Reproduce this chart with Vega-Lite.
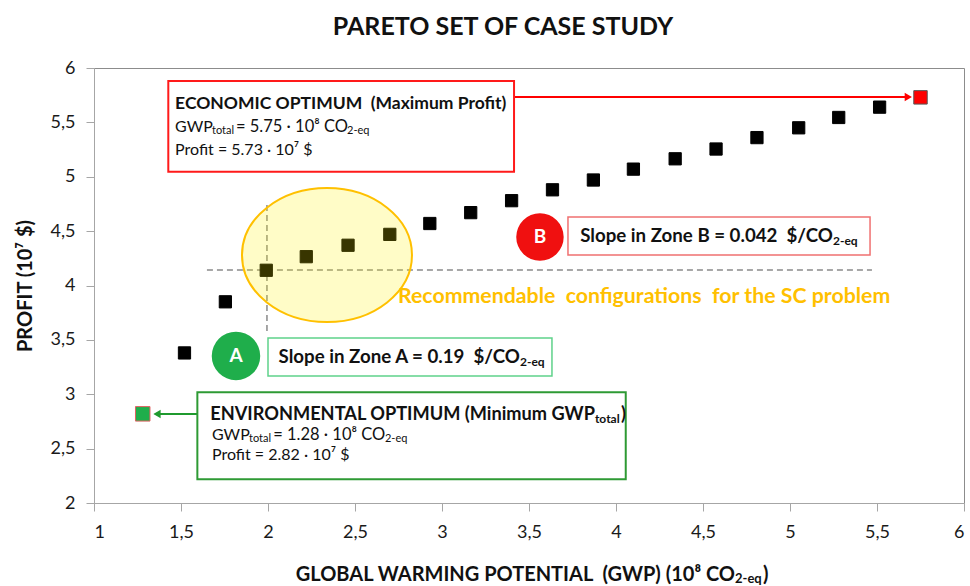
{
  "$schema": "https://vega.github.io/schema/vega-lite/v6.json",
  "width": 870,
  "height": 435,
  "autosize": {"type": "none"},
  "padding": {"left": 94, "top": 68, "right": 6, "bottom": 83},
  "background": "white",
  "config": {
    "font": "Lato",
    "view": {"stroke": "#8c8c8c", "strokeWidth": 1},
    "axis": {"grid": false, "domainColor": "#a6a6a6", "tickColor": "#a6a6a6", "tickSize": 8, "labelFont": "Lato", "labelFontSize": 18, "labelColor": "#1a1a1a"}
  },
  "title": {"text": "PARETO SET OF CASE STUDY", "font": "Lato", "fontSize": 25, "fontWeight": "bold", "color": "#111111", "anchor": "middle", "dx": -26, "offset": 19},
  "datasets": {
    "pts": [
      {"gwp": 1.28, "profit": 2.82, "solution": "Environmental optimum"},
      {"gwp": 1.52, "profit": 3.38, "solution": "Pareto"},
      {"gwp": 1.755, "profit": 3.85, "solution": "Pareto"},
      {"gwp": 1.99, "profit": 4.14, "solution": "Pareto"},
      {"gwp": 2.22, "profit": 4.265, "solution": "Pareto"},
      {"gwp": 2.46, "profit": 4.37, "solution": "Pareto"},
      {"gwp": 2.7, "profit": 4.47, "solution": "Pareto"},
      {"gwp": 2.93, "profit": 4.57, "solution": "Pareto"},
      {"gwp": 3.165, "profit": 4.67, "solution": "Pareto"},
      {"gwp": 3.4, "profit": 4.78, "solution": "Pareto"},
      {"gwp": 3.635, "profit": 4.88, "solution": "Pareto"},
      {"gwp": 3.87, "profit": 4.97, "solution": "Pareto"},
      {"gwp": 4.1, "profit": 5.07, "solution": "Pareto"},
      {"gwp": 4.34, "profit": 5.165, "solution": "Pareto"},
      {"gwp": 4.575, "profit": 5.255, "solution": "Pareto"},
      {"gwp": 4.81, "profit": 5.36, "solution": "Pareto"},
      {"gwp": 5.05, "profit": 5.45, "solution": "Pareto"},
      {"gwp": 5.28, "profit": 5.545, "solution": "Pareto"},
      {"gwp": 5.515, "profit": 5.64, "solution": "Pareto"},
      {"gwp": 5.75, "profit": 5.73, "solution": "Economic optimum"}
    ]
  },
  "encoding": {
    "x": {"field": "x", "type": "quantitative", "scale": {"domain": [1, 6], "nice": false, "zero": false},
      "axis": {"values": [1, 1.5, 2, 2.5, 3, 3.5, 4, 4.5, 5, 5.5, 6], "labelExpr": "replace(format(datum.value, '~g'), '.', ',')", "labelPadding": 12, "title": null}},
    "y": {"field": "y", "type": "quantitative", "scale": {"domain": [2, 6], "nice": false, "zero": false},
      "axis": {"values": [2, 2.5, 3, 3.5, 4, 4.5, 5, 5.5, 6], "labelExpr": "replace(format(datum.value, '~g'), '.', ',')", "labelPadding": 11, "title": "PROFIT (10⁷ $)", "titleFont": "Lato", "titleFontSize": 20, "titleFontWeight": "bold", "titleColor": "#111111", "titlePadding": 15}}
  },
  "layer": [
    {
      "data": {"values": [{"x": 1.649, "x2": 5.471, "y": 4.142}]},
      "mark": {"type": "rule", "color": "#8a8a8a", "strokeWidth": 1.5, "strokeDash": [6, 4]},
      "encoding": {"x2": {"field": "x2"}}
    },
    {
      "data": {"values": [{"x": 1.994, "y": 4.74, "y2": 3.563}]},
      "mark": {"type": "rule", "color": "#8a8a8a", "strokeWidth": 1.5, "strokeDash": [6, 4]},
      "encoding": {"y2": {"field": "y2"}}
    },
    {
      "data": {"name": "pts"},
      "mark": {"type": "point", "shape": "square", "filled": true, "opacity": 1, "strokeWidth": 1},
      "encoding": {
        "x": {"field": "gwp", "type": "quantitative", "scale": {"domain": [1, 6], "nice": false, "zero": false},
          "axis": {"values": [1, 1.5, 2, 2.5, 3, 3.5, 4, 4.5, 5, 5.5, 6], "labelExpr": "replace(format(datum.value, '~g'), '.', ',')", "labelPadding": 12, "title": null}},
        "y": {"field": "profit", "type": "quantitative", "scale": {"domain": [2, 6], "nice": false, "zero": false},
          "axis": {"values": [2, 2.5, 3, 3.5, 4, 4.5, 5, 5.5, 6], "labelExpr": "replace(format(datum.value, '~g'), '.', ',')", "labelPadding": 11, "title": "PROFIT (10⁷ $)", "titleFont": "Lato", "titleFontSize": 20, "titleFontWeight": "bold", "titleColor": "#111111", "titlePadding": 15}},
        "color": {"field": "solution", "type": "nominal", "scale": {"domain": ["Pareto", "Economic optimum", "Environmental optimum"], "range": ["#000000", "#ff0000", "#1fae4b"]}, "legend": null},
        "stroke": {"field": "solution", "type": "nominal", "scale": {"domain": ["Pareto", "Economic optimum", "Environmental optimum"], "range": ["#000000", "#555555", "#e06060"]}, "legend": null},
        "size": {"field": "solution", "type": "nominal", "scale": {"domain": ["Pareto", "Economic optimum", "Environmental optimum"], "range": [150, 210, 210]}, "legend": null}
      }
    },
    {
      "data": {"values": [{"x": 2.339, "y": 4.28}]},
      "mark": {"type": "point", "shape": "M-1,0A1,0.788,0,1,0,1,0A1,0.788,0,1,0,-1,0Z", "size": 28900, "fill": "#fff200", "fillOpacity": 0.22, "stroke": "#ffc000", "strokeWidth": 2, "strokeOpacity": 1, "opacity": 1}
    },
    {
      "data": {"values": [{"x": 3.414, "x2": 5.69, "y": 5.733}]},
      "mark": {"type": "rule", "color": "#ff0000", "strokeWidth": 2},
      "encoding": {"x2": {"field": "x2"}}
    },
    {
      "data": {"values": [{"x": 5.68, "y": 5.733}]},
      "mark": {"type": "point", "shape": "triangle-right", "size": 70, "filled": true, "color": "#ff0000", "opacity": 1}
    },
    {
      "data": {"values": [{"x": 1.35, "x2": 1.594, "y": 2.818}]},
      "mark": {"type": "rule", "color": "#1f9a2e", "strokeWidth": 2},
      "encoding": {"x2": {"field": "x2"}}
    },
    {
      "data": {"values": [{"x": 1.362, "y": 2.818}]},
      "mark": {"type": "point", "shape": "triangle-left", "size": 70, "filled": true, "color": "#1f9a2e", "opacity": 1}
    },
    {
      "data": {"values": [{"x": 1.427, "x2": 3.414, "y": 5.88, "y2": 5.046}]},
      "mark": {"type": "rect", "fill": "white", "stroke": "#ff1a1a", "strokeWidth": 2},
      "encoding": {"x2": {"field": "x2"}, "y2": {"field": "y2"}}
    },
    {
      "data": {"values": [{"x": 1.594, "x2": 4.056, "y": 3.018, "y2": 2.218}]},
      "mark": {"type": "rect", "fill": "white", "stroke": "#2e9a34", "strokeWidth": 2},
      "encoding": {"x2": {"field": "x2"}, "y2": {"field": "y2"}}
    },
    {
      "data": {"values": [{"x": 2.0, "x2": 3.632, "y": 3.517, "y2": 3.168}]},
      "mark": {"type": "rect", "fill": "white", "stroke": "#5fd28a", "strokeWidth": 1.5},
      "encoding": {"x2": {"field": "x2"}, "y2": {"field": "y2"}}
    },
    {
      "data": {"values": [{"x": 3.724, "x2": 5.46, "y": 4.63, "y2": 4.28}]},
      "mark": {"type": "rect", "fill": "white", "stroke": "#f07070", "strokeWidth": 1.5},
      "encoding": {"x2": {"field": "x2"}, "y2": {"field": "y2"}}
    },
    {
      "data": {"values": [{"x": 1.816, "y": 3.352}]},
      "mark": {"type": "point", "shape": "circle", "size": 2350, "filled": true, "color": "#1fae4b", "opacity": 1}
    },
    {
      "data": {"values": [{"x": 3.563, "y": 4.446}]},
      "mark": {"type": "point", "shape": "circle", "size": 2250, "filled": true, "color": "#f01010", "opacity": 1}
    },
    {
      "data": {"values": [{"x": 1.816, "y": 3.352, "text": "A"}, {"x": 3.563, "y": 4.446, "text": "B"}]},
      "mark": {"type": "text", "font": "Lato", "fontSize": 19, "fontWeight": "bold", "color": "white", "align": "center", "baseline": "middle"},
      "encoding": {"text": {"field": "text"}}
    },
    {
      "data": {"values": [{"x": 1.466, "y": 5.669, "text": "ECONOMIC OPTIMUM\u00a0\u00a0(Maximum Profit)"}]},
      "mark": {"type": "text", "font": "Lato", "fontSize": 17.5, "fontWeight": "bold", "color": "#111111", "align": "left", "baseline": "middle"},
      "encoding": {"text": {"field": "text"}}
    },
    {
      "data": {"values": [{"x": 3.879, "y": 2.809, "text": "ENVIRONMENTAL OPTIMUM\u00a0(Minimum GWP"}]},
      "mark": {"type": "text", "font": "Lato", "fontSize": 18.2, "fontWeight": "bold", "color": "#111111", "align": "right", "baseline": "middle"},
      "encoding": {"text": {"field": "text"}}
    },
    {
      "data": {"values": [
        {"x": 3.448, "y": 3.343, "text": "Slope in Zone A = 0.19\u00a0\u00a0$/CO"},
        {"x": 5.247, "y": 4.455, "text": "Slope in Zone B = 0.042\u00a0\u00a0$/CO"}
      ]},
      "mark": {"type": "text", "font": "Lato", "fontSize": 18.7, "fontWeight": "bold", "color": "#111111", "align": "right", "baseline": "middle"},
      "encoding": {"text": {"field": "text"}}
    },
    {
      "data": {"values": [
        {"x": 3.879, "y": 2.77, "text": "total"},
        {"x": 3.448, "y": 3.3, "text": "2-eq"},
        {"x": 5.247, "y": 4.412, "text": "2-eq"}
      ]},
      "mark": {"type": "text", "font": "Lato", "fontSize": 12, "fontWeight": "bold", "color": "#111111", "align": "left", "baseline": "middle"},
      "encoding": {"text": {"field": "text"}}
    },
    {
      "data": {"values": [{"x": 4.029, "y": 2.809, "text": ")"}]},
      "mark": {"type": "text", "font": "Lato", "fontSize": 18.2, "fontWeight": "bold", "color": "#111111", "align": "left", "baseline": "middle"},
      "encoding": {"text": {"field": "text"}}
    },
    {
      "data": {"values": [
        {"x": 1.466, "y": 5.457, "text": "GWP"},
        {"x": 1.466, "y": 5.246, "text": "Profit = 5.73 · 10⁷ $"},
        {"x": 1.678, "y": 2.625, "text": "GWP"},
        {"x": 1.678, "y": 2.441, "text": "Profit = 2.82 · 10⁷ $"}
      ]},
      "mark": {"type": "text", "font": "Lato", "fontSize": 16, "color": "#111111", "align": "left", "baseline": "middle"},
      "encoding": {"text": {"field": "text"}}
    },
    {
      "data": {"values": [
        {"x": 1.816, "y": 5.457, "text": "= 5.75 · 10⁸ CO"},
        {"x": 2.03, "y": 2.625, "text": "= 1.28 · 10⁸ CO"}
      ]},
      "mark": {"type": "text", "font": "Lato", "fontSize": 16.5, "color": "#111111", "align": "left", "baseline": "middle"},
      "encoding": {"text": {"field": "text"}}
    },
    {
      "data": {"values": [
        {"x": 1.678, "y": 5.421, "text": "total"},
        {"x": 2.454, "y": 5.421, "text": "2-eq"},
        {"x": 1.891, "y": 2.589, "text": "total"},
        {"x": 2.672, "y": 2.589, "text": "2-eq"}
      ]},
      "mark": {"type": "text", "font": "Lato", "fontSize": 11, "color": "#111111", "align": "left", "baseline": "middle"},
      "encoding": {"text": {"field": "text"}}
    },
    {
      "data": {"values": [{"x": 2.747, "y": 3.894, "text": "Recommendable\u00a0\u00a0configurations\u00a0\u00a0for the SC problem"}]},
      "mark": {"type": "text", "font": "Lato", "fontSize": 21.3, "fontWeight": "bold", "color": "#ffc000", "align": "left", "baseline": "middle"},
      "encoding": {"text": {"field": "text"}}
    },
    {
      "data": {"values": [{"x": 4.684, "y": 1.34, "text": "GLOBAL WARMING POTENTIAL\u00a0\u00a0(GWP) (10⁸ CO"}]},
      "mark": {"type": "text", "font": "Lato", "fontSize": 20, "fontWeight": "bold", "color": "#111111", "align": "right", "baseline": "middle"},
      "encoding": {"text": {"field": "text"}}
    },
    {
      "data": {"values": [{"x": 4.684, "y": 1.303, "text": "2-eq"}]},
      "mark": {"type": "text", "font": "Lato", "fontSize": 13, "fontWeight": "bold", "color": "#111111", "align": "left", "baseline": "middle"},
      "encoding": {"text": {"field": "text"}}
    },
    {
      "data": {"values": [{"x": 4.845, "y": 1.34, "text": ")"}]},
      "mark": {"type": "text", "font": "Lato", "fontSize": 20, "fontWeight": "bold", "color": "#111111", "align": "left", "baseline": "middle"},
      "encoding": {"text": {"field": "text"}}
    }
  ]
}
